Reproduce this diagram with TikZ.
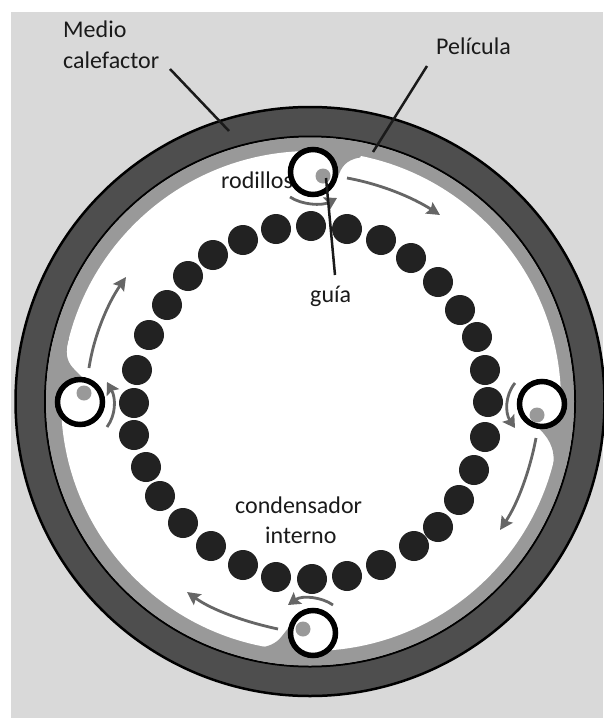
\documentclass[tikz,border=0pt]{standalone}
\usepackage{fontspec}
\setmainfont{Carlito}
\usetikzlibrary{arrows.meta}
\definecolor{bgc}{HTML}{D9D9D9}
\definecolor{heat}{HTML}{4E4E4E}
\definecolor{film}{HTML}{999999}
\definecolor{bead}{HTML}{222222}
\definecolor{flow}{HTML}{666666}
\definecolor{ink}{HTML}{1A1A1A}
\tikzset{
  lab/.style={anchor=base west,inner sep=0pt,font=\fontsize{24}{24}\selectfont,text=ink},
  beadn/.style={circle,fill=bead,minimum size=30pt,inner sep=0pt},
  rollern/.style={circle,draw=black,line width=5.5pt,fill=white,minimum size=45pt,inner sep=0pt},
  guiden/.style={circle,fill=film,minimum size=15pt,inner sep=0pt},
  leader/.style={draw=ink,line width=2.5pt},
  bigflow/.style={draw=flow,line width=2.8pt,-{Stealth[length=13pt,width=13pt,inset=2pt]}},
  smallflow/.style={draw=flow,line width=2.8pt,-{Stealth[length=12pt,width=14pt,inset=2pt]}}
}
\begin{document}
\begin{tikzpicture}[x=1pt,y=-1pt]
\useasboundingbox (0,0) rectangle (603,718);
\fill[white] (0,0) rectangle (603,718);
\fill[bgc] (11,12) rectangle (603,718);
% rings
\coordinate (c) at (310,401.5);
\fill[heat,draw=black,line width=2.5pt] (c) circle[radius=294.5];
\fill[film,draw=black,line width=2pt] (c) circle[radius=265];
\fill[film] (c) circle[radius=264];
\fill[white] (311,401) circle[radius=250];
% film bumps
\begin{scope}
\clip (c) circle[radius=264];
\fill[film] (330,190) -- (338,177) .. controls (341,168) and (345,160) .. (360,157.5) -- (380,120) -- (320,120) -- cycle;
\fill[film] (535,425) .. controls (548,436) and (556,448) .. (553,467) -- (590,470) -- (590,410) -- cycle;
\fill[film] (293,622) -- (282,636) .. controls (276,644) and (268,647) .. (256,648) -- (255,680) -- (300,680) -- cycle;
\fill[film] (90,385) -- (74,369) .. controls (66,361) and (65,352) .. (69,338) -- (30,338) -- (30,385) -- cycle;
\end{scope}
% beads
\foreach \n/\x/\y in {1/311/226,2/347/229,3/381/240,4/411/258,5/438/282,6/460/310,7/477/337,8/485/370,9/488/402,10/485/437,11/474/470,12/459/500,13/438/527,14/414/546,15/381/565,16/347/576,17/312/579,18/276/577,19/243/565,20/211/546,21/183/523,22/160/496,23/146/467,24/134/435,25/134/403,26/137/370,27/149/335,28/167/305,29/188/276,30/213/255,31/243/240,32/276/229}
  \node[beadn] (b\n) at (\x,\y) {};
% labels
\node[lab] (medio) at (63,37) {Medio};
\node[lab] (calef) at (63,68) {calefactor};
\node[lab] (peli) at (436,54) {Película};
\node[lab] (rod) at (221,188) {rodillos};
\node[lab] (guia) at (310,302) {guía};
\node[lab] (cond) at (235,513) {condensador};
\node[lab] (inter) at (265,543) {interno};
% rollers
\node[rollern] (rt) at (313,172) {};
\node[rollern] (rr) at (542,404) {};
\node[rollern] (rb) at (313,633) {};
\node[rollern] (rl) at (80,402) {};
\node[guiden] (gt) at (323,176) {};
\node[guiden] (gr) at (537,415) {};
\node[guiden] (gb) at (303,629) {};
\node[guiden] (gl) at (84,393) {};
% flow arrows
\coordinate (a1) at (347,178); \coordinate (a2) at (440,215);
\draw[bigflow] (a1) .. controls (380,184) and (412,197) .. (a2);
\coordinate (a3) at (290,197); \coordinate (a4) at (337,198);
\draw[smallflow] (a3) .. controls (302,205) and (322,206) .. (a4);
\coordinate (a5) at (515,383); \coordinate (a6) at (515,428);
\draw[smallflow] (a5) .. controls (505,395) and (505,413) .. (a6);
\coordinate (a7) at (536,438); \coordinate (a8) at (500,530);
\draw[bigflow] (a7) .. controls (530,470) and (518,503) .. (a8);
\coordinate (a9) at (333,605); \coordinate (a10) at (288,605);
\draw[smallflow] (a9) .. controls (322,597) and (302,595) .. (a10);
\coordinate (a11) at (278,629); \coordinate (a12) at (187,592);
\draw[bigflow] (a11) .. controls (245,622) and (212,610) .. (a12);
\coordinate (a13) at (107,427); \coordinate (a14) at (107,382);
\draw[smallflow] (a13) .. controls (116,415) and (116,398) .. (a14);
\coordinate (a15) at (89,368); \coordinate (a16) at (126,277);
\draw[bigflow] (a15) .. controls (94,335) and (108,303) .. (a16);
% leaders
\coordinate (l1) at (170,69); \coordinate (l2) at (229,131);
\draw[leader] (l1) -- (l2);
\coordinate (l3) at (427,66); \coordinate (l4) at (373,152);
\draw[leader] (l3) -- (l4);
\coordinate (l5) at (326,178); \coordinate (l6) at (335,275);
\draw[leader] (l5) -- (l6);
\end{tikzpicture}
\end{document}
